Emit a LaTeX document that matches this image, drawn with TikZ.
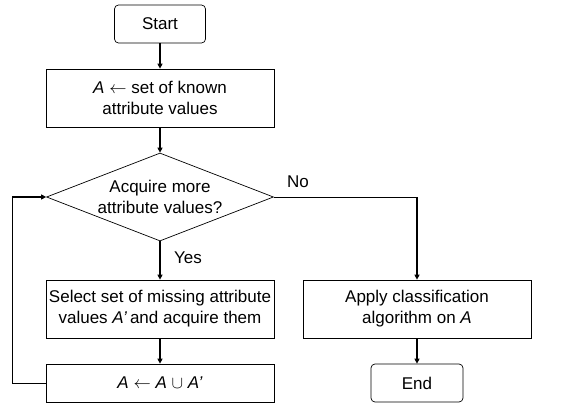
\documentclass[tikz,border=0pt]{standalone}
\usepackage{fontspec}
\setmainfont{Liberation Sans}
\usetikzlibrary{shapes.geometric,arrows.meta}
\begin{document}
\begin{tikzpicture}[x=1pt,y=-1pt,
  font=\fontsize{17}{21}\selectfont,
  procbox/.style={draw,line width=0.7pt,rectangle,align=center,inner sep=0pt,minimum width=228pt},
  termbox/.style={draw,line width=0.7pt,rectangle,rounded corners=4pt,align=center,inner sep=0pt,minimum height=38pt},
  decbox/.style={draw,line width=0.7pt,diamond,aspect=2.58,align=center,inner sep=0pt,minimum width=227pt,minimum height=88pt},
  flow/.style={line width=1.1pt,-{Triangle[length=5pt,width=5pt]}},
  thinflow/.style={line width=0.7pt},
  lbl/.style={inner sep=0pt}]
\useasboundingbox (0,0) rectangle (586,404);
\node[termbox,minimum width=91pt] (start) at (160,24) {Start};
\node[procbox,minimum height=58pt] (init) at (160,98) {\textit{A} $\leftarrow$ set of known\\attribute values};
\node[decbox] (dec) at (160,197) {Acquire more\\attribute values?};
\node[procbox,minimum height=58pt] (sel) at (160,309) {Select set of missing attribute\\values \textit{A’}\,and acquire them};
\node[procbox,minimum height=38pt] (upd) at (160,383) {\textit{A} $\leftarrow$ \textit{A} $\cup$ \textit{A’}};
\node[procbox,minimum height=58pt] (apply) at (417,309) {Apply classification\\algorithm on \textit{A}};
\node[termbox,minimum width=92pt] (end) at (417,383) {End};
\coordinate (nocorner) at (417,197);
\coordinate (loopbot) at (12,383);
\coordinate (looptop) at (12,197);
\node[lbl] (nolbl) at (298,182) {No};
\node[lbl] (yeslbl) at (188,258) {Yes};
\draw[flow] (start) -- (init);
\draw[flow] (init) -- (dec);
\draw[flow] (dec) -- (sel);
\draw[flow] (sel) -- (upd);
\draw[thinflow] (dec.east) -- (nocorner);
\draw[flow] (nocorner) -- (apply.north);
\draw[flow] (apply) -- (end);
\draw[thinflow] (upd.west) -- (loopbot) -- (looptop);
\draw[flow] (looptop) -- (dec.west);
\end{tikzpicture}
\end{document}
